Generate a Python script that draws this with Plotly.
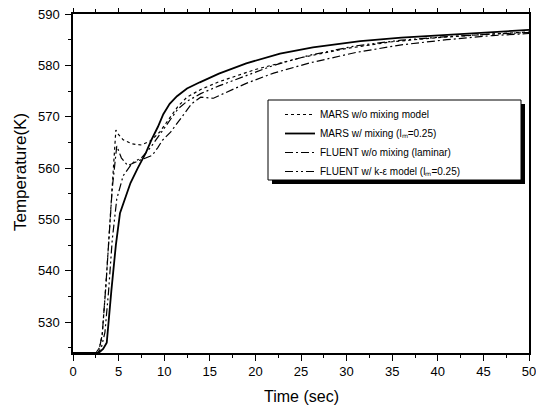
import plotly.graph_objects as go

# MARS w/o mixing model (dotted)
t_mars_nomix = [0, 2.5, 2.9, 3.2, 3.6, 4.0, 4.3, 4.5, 4.7, 5.0, 5.5, 6.5, 7.5, 8.5, 9.5, 10.5,
                11.5, 12.5, 14, 16, 18, 20, 25, 30, 35, 40, 45, 50]
T_mars_nomix = [524, 524, 525, 527.5, 537, 548, 556, 562, 567.4, 566.5, 565.5, 564.7, 564.5, 565.3,
                567, 569.5, 572, 573.8, 575.3, 576.8, 578, 579.2, 581.5, 583.3, 584.6, 585.4, 586, 586.5]

# MARS w/ mixing (solid)
t_mars_mix = [0, 2.8, 3.3, 3.7, 4.2, 4.7, 5.15, 5.7, 6.3, 7.1, 8, 8.6, 9.3, 9.9, 10.6, 11.4,
              12.5, 13.9, 16, 19, 22.7, 26.3, 31.5, 36, 40.6, 45, 50]
T_mars_mix = [524, 524, 524.8, 526, 536, 545, 551.2, 554, 557.1, 560, 563, 565.5, 568, 570.5,
              572.5, 574, 575.5, 576.7, 578.4, 580.4, 582.3, 583.5, 584.7, 585.4, 585.9, 586.4, 586.9]

# FLUENT w/o mixing (laminar) (dash-dot)
t_fl_lam = [0, 2.5, 2.9, 3.2, 3.6, 4.0, 4.3, 4.6, 4.8, 5.3, 6.0, 7.3, 8.7, 9.3, 9.8, 10.7, 12,
            13, 14, 15.4, 16.5, 19, 22, 26, 31, 36, 41, 46, 50]
T_fl_lam = [524, 524, 525, 527.5, 537, 548, 556, 561, 564.3, 562, 560.5, 561.5, 562.5, 564,
            565.4, 567, 570, 572.5, 573.8, 573.6, 574.5, 576.5, 578.5, 580.5, 582.5, 584, 585, 585.8, 586.2]

# FLUENT w/ k-eps model (dash-dot-dot)
t_fl_ke = [0, 2.7, 3.1, 3.5, 3.9, 4.3, 4.8, 5.5, 6.5, 7.5, 8.5, 9.5, 10.5, 11.5, 12.5, 14, 16,
           19, 22, 26, 31, 36, 41, 46, 50]
T_fl_ke = [524, 524, 525, 528, 536, 546, 554, 558.5, 561, 562, 564, 566.5, 569, 571.5, 573,
           574.5, 576, 578, 580, 582, 583.8, 584.9, 585.6, 586.1, 586.4]

names = ["MARS w/o mixing model",
         "MARS w/ mixing (l\u2098=0.25)",
         "FLUENT w/o mixing (laminar)",
         "FLUENT w/ k-\u03b5 model (l\u2098=0.25)"]

x_ticks = [0, 5, 10, 15, 20, 25, 30, 35, 40, 45, 50]
y_ticks = [530, 540, 550, 560, 570, 580, 590]
y_minor = [525, 535, 545, 555, 565, 575, 585]

x_title = "Time (sec)"
y_title = "Temperature(K)"

font = "Liberation Sans, Arial, sans-serif"

fig = go.Figure()
fig.add_trace(go.Scatter(x=t_mars_nomix, y=T_mars_nomix, mode="lines", name=names[0],
                         line=dict(color="black", width=1.2, dash="dot")))
fig.add_trace(go.Scatter(x=t_mars_mix, y=T_mars_mix, mode="lines", name=names[1],
                         line=dict(color="black", width=1.8, dash="solid")))
fig.add_trace(go.Scatter(x=t_fl_lam, y=T_fl_lam, mode="lines", name=names[2],
                         line=dict(color="black", width=1.2, dash="8px,3px,2px,3px")))
fig.add_trace(go.Scatter(x=t_fl_ke, y=T_fl_ke, mode="lines", name=names[3],
                         line=dict(color="black", width=1.2, dash="8px,3px,2px,3px,2px,3px")))

# page body offset (default html margin) is compensated
OFF = 8
SL, SR, ST, SB = 73, 529, 14, 353          # plot area in screen pixels
W, H = 544 - OFF, 407 - OFF
L, T = SL - OFF, ST - OFF
R, B = W + OFF - SR, H + OFF - SB
pw, ph = SR - SL, SB - ST

def px_x(p):
    return (p - SL) / pw

def px_y(p):
    return (SB - p) / ph

# legend box and shadow (screen pixels converted to paper)
bx0, bx1, by0, by1 = 268, 521, 100, 180
fig.add_shape(type="rect", xref="paper", yref="paper",
              x0=px_x(bx0 + 4), x1=px_x(bx1 + 4), y0=px_y(by1 + 4), y1=px_y(by0 + 4),
              fillcolor="black", line=dict(width=0), layer="above")
fig.add_shape(type="rect", xref="paper", yref="paper",
              x0=px_x(bx0), x1=px_x(bx1), y0=px_y(by1), y1=px_y(by0),
              fillcolor="white", line=dict(color="black", width=1), layer="above")

# axis titles as annotations
fig.add_annotation(text=x_title, xref="paper", yref="paper", x=px_x(301), y=px_y(396),
                   xanchor="center", yanchor="middle", showarrow=False,
                   font=dict(size=16, family=font, color="black"))
fig.add_annotation(text=y_title, xref="paper", yref="paper", x=px_x(20), y=px_y(172),
                   xanchor="center", yanchor="middle", showarrow=False, textangle=-90,
                   font=dict(size=17, family=font, color="black"))

fig.update_layout(
    width=W, height=H,
    margin=dict(l=L, r=R, t=T, b=B, autoexpand=False),
    paper_bgcolor="white", plot_bgcolor="white",
    font=dict(family=font, size=12, color="black"),
    showlegend=True,
    legend=dict(x=px_x(bx0 + 12), y=px_y(by0), xanchor="left", yanchor="top",
                bgcolor="rgba(0,0,0,0)", borderwidth=0,
                font=dict(family=font, size=10, color="black"),
                tracegroupgap=0, itemwidth=30),
    xaxis=dict(range=[0, 50], tickmode="array", tickvals=x_ticks, automargin=False,
               ticks="outside", ticklen=6, tickwidth=1.2, tickcolor="black",
               ticklabelstandoff=0, ticklabeloverflow="allow",
               minor=dict(dtick=2.5, ticks="outside", ticklen=3, tickcolor="black", tickwidth=1),
               showline=True, linecolor="black", linewidth=1.5, mirror="ticks",
               showgrid=False, zeroline=False,
               tickfont=dict(size=13, family=font)),
    yaxis=dict(range=[524, 590], tickmode="array", tickvals=y_ticks, automargin=False,
               ticks="outside", ticklen=6, tickwidth=1.2, tickcolor="black",
               ticklabelstandoff=3, ticklabeloverflow="allow",
               minor=dict(tickmode="array", tickvals=y_minor,
                          ticks="outside", ticklen=3, tickcolor="black", tickwidth=1),
               showline=True, linecolor="black", linewidth=1.5, mirror=True,
               showgrid=False, zeroline=False,
               tickfont=dict(size=13, family=font)),
)

fig.write_html("out.html")
